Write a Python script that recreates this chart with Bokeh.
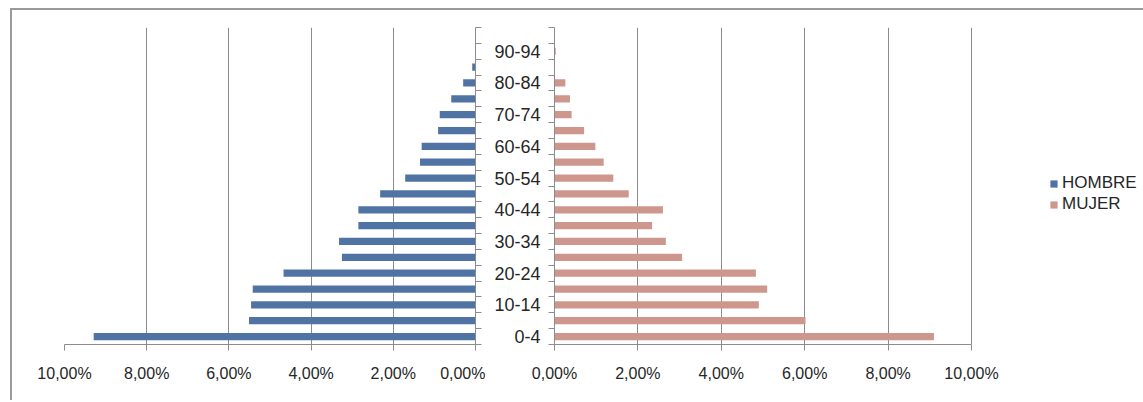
from bokeh.plotting import figure
from bokeh.models import Range1d, FixedTicker, Legend, LegendItem, ColumnDataSource
from bokeh.layouts import row
from bokeh.embed import file_html
from bokeh.resources import INLINE

# ---- data ----
ages = ["0-4", "5-9", "10-14", "15-19", "20-24", "25-29", "30-34", "35-39",
        "40-44", "45-49", "50-54", "55-59", "60-64", "65-69", "70-74",
        "75-79", "80-84", "85-89", "90-94"]
hombre = [9.29, 5.51, 5.46, 5.42, 4.67, 3.25, 3.32, 2.85, 2.85, 2.32,
          1.71, 1.35, 1.31, 0.91, 0.87, 0.59, 0.30, 0.08, 0.0]
mujer = [9.10, 6.02, 4.90, 5.10, 4.83, 3.06, 2.67, 2.34, 2.60, 1.78,
         1.41, 1.18, 0.98, 0.71, 0.41, 0.37, 0.26, 0.0, 0.03]
x_ticks = [0, 2, 4, 6, 8, 10]
x_tick_labels = ["0,00%", "2,00%", "4,00%", "6,00%", "8,00%", "10,00%"]
series_names = ["HOMBRE", "MUJER"]

# ---- styling ----
C_H = "#4F74A3"
C_M = "#CD978E"
GRID = "#8c8c8c"
FONT = "Liberation Sans"
TXT = "#262626"

n = len(ages)
ypos = list(range(n))
boundaries = [i - 0.5 for i in range(n + 2)]
label_pos = [i for i in ypos if i % 2 == 0]
y_overrides = {i: ages[i] for i in label_pos}
x_overrides = {t: l for t, l in zip(x_ticks, x_tick_labels)}

src_h = ColumnDataSource(dict(y=ypos, v=hombre))
src_m = ColumnDataSource(dict(y=ypos, v=mujer))

px_per_unit_r = 417 / 10.0
frame_r = 589
x_end_r = frame_r / px_per_unit_r

common = dict(output_backend="svg", toolbar_location=None, height=390,
              min_border_top=17, min_border_bottom=56)

pL = figure(width=473, x_range=Range1d(10, 0), y_range=Range1d(-0.5, n + 0.5),
            min_border_left=52, min_border_right=10, y_axis_location="right", **common)
pR = figure(width=658, x_range=Range1d(0, x_end_r), y_range=Range1d(-0.5, n + 0.5),
            min_border_left=69, min_border_right=0, y_axis_location="left", **common)

BAR_H = 0.46
pL.hbar(y="y", left=0, right="v", height=BAR_H, source=src_h,
        fill_color=C_H, line_color=None)
mr = pR.hbar(y="y", left=0, right="v", height=BAR_H, source=src_m,
             fill_color=C_M, line_color=None)

for p in (pL, pR):
    p.outline_line_color = None
    p.background_fill_color = "white"
    p.border_fill_color = "white"
    p.ygrid.visible = False
    p.xgrid.ticker = FixedTicker(ticks=x_ticks)
    p.xgrid.grid_line_color = GRID
    p.xgrid.grid_line_width = 1
    ax = p.xaxis[0]
    ax.ticker = FixedTicker(ticks=x_ticks)
    ax.bounds = (0, 10)
    ax.axis_line_color = GRID
    ax.major_tick_line_color = GRID
    ax.major_tick_out = 6
    ax.major_tick_in = 0
    ax.minor_tick_line_color = None
    ax.major_label_overrides = x_overrides
    ax.major_label_text_font = FONT
    ax.major_label_text_font_size = "16px"
    ax.major_label_text_color = TXT
    ax.major_label_standoff = 14
    ya = p.yaxis[0]
    ya.axis_line_color = GRID
    ya.major_tick_out = 0
    ya.major_tick_in = 0
    ya.minor_tick_out = 6
    ya.minor_tick_in = 0
    ya.minor_tick_line_color = GRID
    ya.major_tick_line_color = None

pL.yaxis[0].ticker = FixedTicker(ticks=[], minor_ticks=boundaries)
pL.yaxis[0].major_label_text_font_size = "0px"

yr = pR.yaxis[0]
yr.ticker = FixedTicker(ticks=label_pos, minor_ticks=boundaries)
yr.major_label_overrides = y_overrides
yr.major_label_text_font = FONT
yr.major_label_text_font_size = "18px"
yr.major_label_text_color = TXT
yr.major_label_standoff = 8

# legend swatch for HOMBRE: same data drawn on an off-screen range of this plot
pR.extra_x_ranges = {"legend_only": Range1d(1000, 1001)}
h_swatch = pR.hbar(y="y", left=0, right="v", height=BAR_H, source=src_h,
                   fill_color=C_H, line_color=None, x_range_name="legend_only")
legend = Legend(items=[LegendItem(label=series_names[0], renderers=[h_swatch]),
                       LegendItem(label=series_names[1], renderers=[mr])],
                location=(495, 130), glyph_width=9, glyph_height=9,
                label_text_font=FONT, label_text_font_size="17px",
                label_text_color=TXT, label_height=20, spacing=1,
                padding=0, margin=0, border_line_color=None,
                background_fill_alpha=0, label_standoff=4)
pR.add_layout(legend)

layout = row(pL, pR, margin=(8, 0, 0, 10),
             styles={"border-top": "2px solid #9a9a9a", "border-left": "2px solid #9a9a9a"})

open("out.html", "w").write(file_html(layout, INLINE))
